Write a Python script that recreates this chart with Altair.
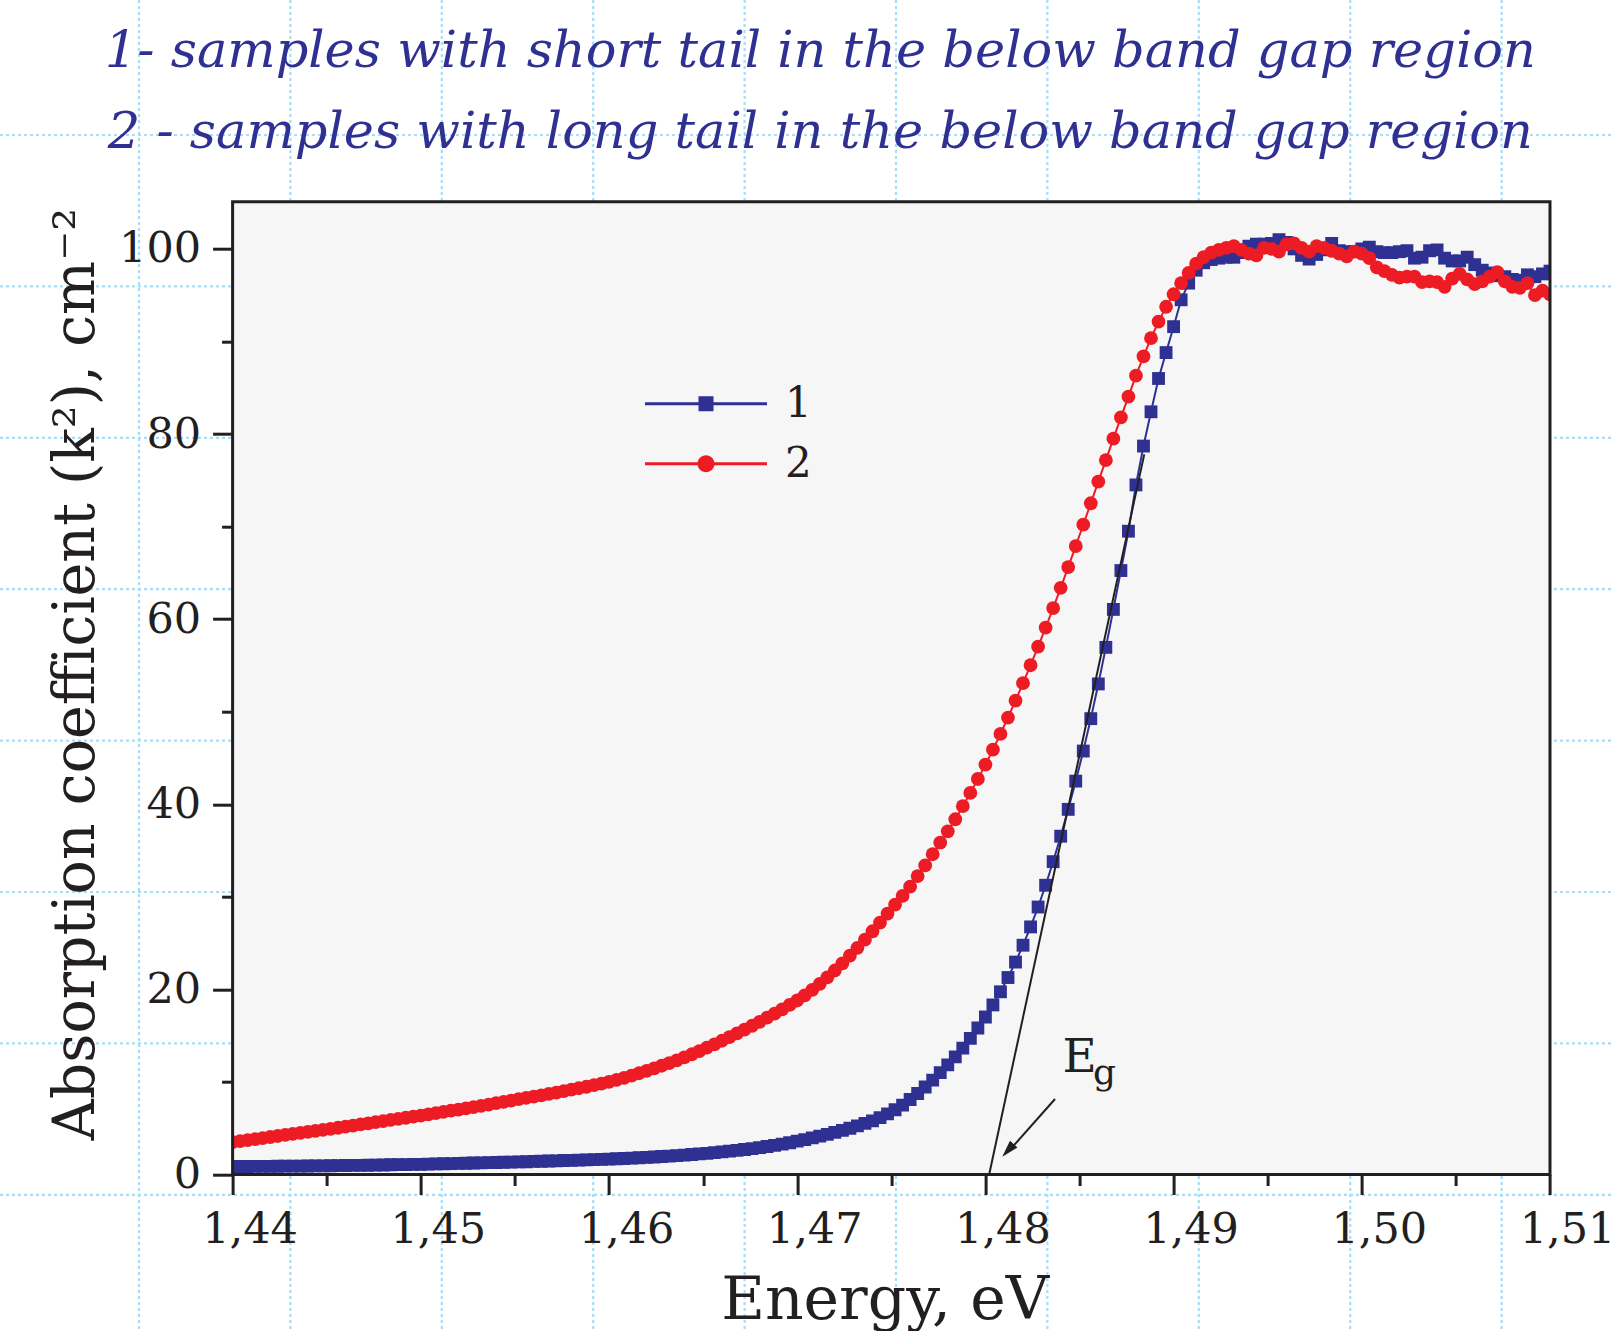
import altair as alt
import pandas as pd

BLUE = "#2e3192"
RED = "#ed1c24"
INK = "#231f20"
GRIDC = "#a9dcf5"
FONT = "DejaVu Serif"

# ---------------- data ----------------
energy = [
    1.4400, 1.4404, 1.4408, 1.4412, 1.4416, 1.4420, 1.4424, 1.4428, 1.4432, 1.4436,
    1.4440, 1.4444, 1.4448, 1.4452, 1.4456, 1.4460, 1.4464, 1.4468, 1.4472, 1.4476,
    1.4480, 1.4484, 1.4488, 1.4492, 1.4496, 1.4500, 1.4504, 1.4508, 1.4512, 1.4516,
    1.4520, 1.4524, 1.4528, 1.4532, 1.4536, 1.4540, 1.4544, 1.4548, 1.4552, 1.4556,
    1.4560, 1.4564, 1.4568, 1.4572, 1.4576, 1.4580, 1.4584, 1.4588, 1.4592, 1.4596,
    1.4600, 1.4604, 1.4608, 1.4612, 1.4616, 1.4620, 1.4624, 1.4628, 1.4632, 1.4636,
    1.4640, 1.4644, 1.4648, 1.4652, 1.4656, 1.4660, 1.4664, 1.4668, 1.4672, 1.4676,
    1.4680, 1.4684, 1.4688, 1.4692, 1.4696, 1.4700, 1.4704, 1.4708, 1.4712, 1.4716,
    1.4720, 1.4724, 1.4728, 1.4732, 1.4736, 1.4740, 1.4744, 1.4748, 1.4752, 1.4756,
    1.4760, 1.4764, 1.4768, 1.4772, 1.4776, 1.4780, 1.4784, 1.4788, 1.4792, 1.4796,
    1.4800, 1.4804, 1.4808, 1.4812, 1.4816, 1.4820, 1.4824, 1.4828, 1.4832, 1.4836,
    1.4840, 1.4844, 1.4848, 1.4852, 1.4856, 1.4860, 1.4864, 1.4868, 1.4872, 1.4876,
    1.4880, 1.4884, 1.4888, 1.4892, 1.4896, 1.4900, 1.4904, 1.4908, 1.4912, 1.4916,
    1.4920, 1.4924, 1.4928, 1.4932, 1.4936, 1.4940, 1.4944, 1.4948, 1.4952, 1.4956,
    1.4960, 1.4964, 1.4968, 1.4972, 1.4976, 1.4980, 1.4984, 1.4988, 1.4992, 1.4996,
    1.5000, 1.5004, 1.5008, 1.5012, 1.5016, 1.5020, 1.5024, 1.5028, 1.5032, 1.5036,
    1.5040, 1.5044, 1.5048, 1.5052, 1.5056, 1.5060, 1.5064, 1.5068, 1.5072, 1.5076,
    1.5080, 1.5084, 1.5088, 1.5092, 1.5096, 1.5100,
]

# curve 1 - short tail (blue squares)
k2_short = [
    0.85, 0.86, 0.86, 0.87, 0.87, 0.88, 0.89, 0.90, 0.90, 0.91,
    0.92, 0.93, 0.94, 0.95, 0.96, 0.97, 0.98, 0.99, 1.00, 1.02,
    1.03, 1.05, 1.06, 1.07, 1.09, 1.10, 1.12, 1.14, 1.16, 1.18,
    1.20, 1.22, 1.24, 1.26, 1.28, 1.30, 1.32, 1.34, 1.36, 1.38,
    1.41, 1.43, 1.46, 1.48, 1.51, 1.53, 1.56, 1.58, 1.61, 1.63,
    1.66, 1.70, 1.73, 1.77, 1.81, 1.85, 1.89, 1.94, 1.99, 2.04,
    2.10, 2.16, 2.22, 2.29, 2.36, 2.44, 2.52, 2.61, 2.70, 2.80,
    2.91, 3.03, 3.15, 3.28, 3.43, 3.60, 3.77, 3.95, 4.14, 4.34,
    4.55, 4.77, 5.00, 5.25, 5.52, 5.80, 6.15, 6.55, 7.00, 7.50,
    8.10, 8.75, 9.45, 10.20, 11.00, 11.85, 12.71, 13.65, 14.70, 15.83,
    17.02, 18.32, 19.74, 21.28, 22.95, 24.77, 26.75, 28.90, 31.25, 33.80,
    36.55, 39.45, 42.50, 45.75, 49.25, 53.00, 56.95, 61.05, 65.25, 69.50,
    74.50, 78.70, 82.40, 86.00, 88.80, 91.60, 94.50, 96.30, 97.70, 98.50,
    98.85, 99.00, 99.10, 99.10, 99.60, 100.30, 100.50, 100.50, 100.60, 101.00,
    100.70, 100.00, 99.30, 98.90, 99.40, 99.90, 100.60, 99.80, 99.70, 99.70,
    100.00, 100.20, 99.70, 99.60, 99.60, 99.70, 99.80, 99.00, 99.10, 99.80,
    99.90, 99.00, 98.70, 98.70, 99.10, 98.30, 97.70, 97.40, 97.10, 97.00,
    96.70, 96.60, 97.20, 97.00, 97.30, 97.60,
]

# curve 2 - long tail (red circles)
k2_long = [
    3.50, 3.61, 3.72, 3.83, 3.94, 4.05, 4.16, 4.27, 4.38, 4.49,
    4.60, 4.71, 4.82, 4.93, 5.05, 5.17, 5.29, 5.41, 5.53, 5.65,
    5.77, 5.89, 6.01, 6.13, 6.25, 6.37, 6.50, 6.63, 6.76, 6.89,
    7.02, 7.15, 7.28, 7.42, 7.56, 7.70, 7.84, 7.99, 8.14, 8.29,
    8.42, 8.56, 8.70, 8.85, 9.00, 9.16, 9.32, 9.48, 9.65, 9.82,
    10.00, 10.22, 10.45, 10.69, 10.94, 11.20, 11.47, 11.75, 12.04, 12.34,
    12.65, 12.99, 13.34, 13.70, 14.07, 14.45, 14.84, 15.24, 15.65, 16.07,
    16.50, 16.94, 17.39, 17.85, 18.32, 18.80, 19.35, 19.95, 20.60, 21.30,
    22.04, 22.82, 23.64, 24.49, 25.37, 26.28, 27.22, 28.19, 29.15, 30.10,
    31.11, 32.24, 33.39, 34.60, 35.85, 37.08, 38.38, 39.79, 41.23, 42.73,
    44.28, 45.90, 47.60, 49.37, 51.20, 53.08, 55.02, 57.02, 59.08, 61.20,
    63.38, 65.62, 67.90, 70.20, 72.52, 74.85, 77.18, 79.50, 81.80, 84.05,
    86.30, 88.40, 90.35, 92.15, 93.75, 95.10, 96.30, 97.40, 98.40, 99.10,
    99.60, 99.90, 100.10, 100.30, 99.90, 99.50, 99.30, 100.10, 100.00, 99.70,
    100.50, 100.60, 100.10, 99.70, 100.30, 100.10, 99.80, 99.50, 99.20, 99.70,
    99.50, 99.00, 98.00, 97.60, 97.20, 96.90, 97.00, 97.00, 96.40, 96.50,
    96.40, 95.90, 96.80, 97.30, 96.70, 96.20, 96.50, 97.00, 97.50, 96.50,
    95.90, 95.80, 96.30, 95.00, 95.50, 95.10,
]

series_labels = ["1", "2"]
x_ticks = [1.44, 1.445, 1.45, 1.455, 1.46, 1.465, 1.47, 1.475, 1.48,
           1.485, 1.49, 1.495, 1.50, 1.505, 1.51]
y_ticks = [0, 10, 20, 30, 40, 50, 60, 70, 80, 90, 100]
x_domain = [1.44, 1.51]
y_domain = [0, 105.1]

# band-gap extrapolation line and arrow (data units)
eg_line_x = [1.4802, 1.48844]
eg_line_y = [0.0, 77.8]
arrow_x = [1.48370, 1.48125]
arrow_y = [8.16, 2.55]
arrow_head_x = [1.48120]
arrow_head_y = [2.60]
eg_main_x, eg_main_y = [1.48410], [11.1]
eg_sub_x, eg_sub_y = [1.48572], [9.8]

# page background graph-paper grid (page pixel units)
grid_cols = [139, 290.4, 441.8, 593.2, 744.6, 896, 1047.4, 1198.8, 1350.2, 1501.6]
grid_rows = [135, 286.4, 437.8, 589.2, 740.6, 892, 1043.4, 1194.8]

title_lines = ["1- samples with short tail in the below band gap region",
               "2 - samples with long tail in the below band gap region"]

# ---------------- layout ----------------
PAGE_W, PAGE_H = 1614, 1331
PL, PT = 232.6, 201.7
PW, PH = 1317.4, 972.8

df1 = pd.DataFrame({"E": energy, "k": k2_short})
df2 = pd.DataFrame({"E": energy, "k": k2_long})

xs = alt.Scale(domain=x_domain, nice=False, zero=False)
ys = alt.Scale(domain=y_domain, nice=False, zero=False)

# grid layer with its own page-pixel scales
gxs = alt.Scale(domain=[0, PAGE_W], range=[-PL, PAGE_W - PL], nice=False, zero=False)
gys = alt.Scale(domain=[0, PAGE_H], range=[-PT, PAGE_H - PT], nice=False, zero=False)
vdf = pd.DataFrame({"gx": grid_cols, "y0": [0] * len(grid_cols), "y1": [PAGE_H] * len(grid_cols)})
hdf = pd.DataFrame({"gy": grid_rows, "x0": [0] * len(grid_rows), "x1": [PAGE_W] * len(grid_rows)})
grid_v = alt.Chart(vdf).mark_rule(color=GRIDC, strokeWidth=2.2, strokeDash=[3, 3]).encode(
    x=alt.X("gx:Q", scale=gxs, axis=None),
    y=alt.Y("y0:Q", scale=gys, axis=None), y2="y1:Q")
grid_h = alt.Chart(hdf).mark_rule(color=GRIDC, strokeWidth=2.2, strokeDash=[3, 3]).encode(
    y=alt.Y("gy:Q", scale=gys, axis=None),
    x=alt.X("x0:Q", scale=gxs, axis=None), x2="x1:Q")
grid = alt.layer(grid_v, grid_h)

frame_df = pd.DataFrame({"x": [x_domain[0]], "x2": [x_domain[1]], "y": [y_domain[0]], "y2": [y_domain[1]]})

x_axis = alt.Axis(
    values=x_ticks, domain=False, grid=False, zindex=1,
    labelExpr="round(datum.value*200) % 2 == 0 ? replace(format(datum.value, '.2f'), '.', ',') : ''",
    tickSize={"condition": {"test": "round(datum.value*200) % 2 == 0", "value": 20}, "value": 11},
    tickWidth=3, tickColor=INK, labelFont=FONT, labelFontSize=43, labelColor=INK,
    labelBaseline="alphabetic", labelPadding=48, labelOffset=17, labelFlush=False, labelOverlap=False,
    title="Energy, eV", titleFont=FONT, titleFontSize=60, titleFontWeight="normal",
    titleColor=INK, titleX=652, titleY=144, titleBaseline="alphabetic", titleAlign="center",
)
y_axis = alt.Axis(
    values=y_ticks, domain=False, grid=False, zindex=1,
    labelExpr="datum.value % 20 == 0 ? datum.label : ''",
    tickSize={"condition": {"test": "datum.value % 20 == 0", "value": 20}, "value": 11},
    tickWidth=3, tickColor=INK, labelFont=FONT, labelFontSize=43, labelColor=INK,
    labelPadding=12, labelFlush=False, labelOverlap=False,
    title="Absorption coefficient (k²), cm⁻²", titleFont=FONT, titleFontSize=57,
    titleFontWeight="normal", titleColor=INK, titleAngle=270,
    titleX=-139, titleY=472, titleBaseline="alphabetic", titleAlign="center",
)

bg = alt.Chart(frame_df).mark_rect(fill="#f6f6f6", strokeWidth=0).encode(
    x=alt.X("x:Q", scale=xs, axis=x_axis), x2="x2:Q",
    y=alt.Y("y:Q", scale=ys, axis=y_axis), y2="y2:Q")
border = alt.Chart(frame_df).mark_rect(fillOpacity=0, stroke=INK, strokeWidth=3).encode(
    x=alt.X("x:Q", scale=xs), x2="x2:Q", y=alt.Y("y:Q", scale=ys), y2="y2:Q")

line1 = alt.Chart(df1).mark_line(color=BLUE, strokeWidth=2, clip=True).encode(
    x=alt.X("E:Q", scale=xs), y=alt.Y("k:Q", scale=ys))
pts1 = alt.Chart(df1).mark_point(shape="square", filled=True, size=165, color=BLUE,
                                 opacity=1, strokeWidth=0, clip=True).encode(
    x=alt.X("E:Q", scale=xs), y=alt.Y("k:Q", scale=ys))
line2 = alt.Chart(df2).mark_line(color=RED, strokeWidth=2, clip=True).encode(
    x=alt.X("E:Q", scale=xs), y=alt.Y("k:Q", scale=ys))
pts2 = alt.Chart(df2).mark_point(shape="circle", filled=True, size=190, color=RED,
                                 opacity=1, strokeWidth=0, clip=True).encode(
    x=alt.X("E:Q", scale=xs), y=alt.Y("k:Q", scale=ys))

eg_line = alt.Chart(pd.DataFrame({"x": eg_line_x, "y": eg_line_y})).mark_line(
    color=INK, strokeWidth=2).encode(x=alt.X("x:Q", scale=xs), y=alt.Y("y:Q", scale=ys))
arrow = alt.Chart(pd.DataFrame({"x": arrow_x, "y": arrow_y})).mark_line(
    color=INK, strokeWidth=2).encode(x=alt.X("x:Q", scale=xs), y=alt.Y("y:Q", scale=ys))
arrow_head = alt.Chart(pd.DataFrame({"x": arrow_head_x, "y": arrow_head_y})).mark_point(
    shape="M0,-1L0.6,1L-0.6,1Z", angle=222.4, size=289, filled=True, color=INK,
    opacity=1, strokeWidth=0).encode(x=alt.X("x:Q", scale=xs), y=alt.Y("y:Q", scale=ys))
eg_E = alt.Chart(pd.DataFrame({"x": eg_main_x, "y": eg_main_y, "t": ["E"]})).mark_text(
    font=FONT, fontSize=47, color=INK, align="left", baseline="alphabetic").encode(
    x=alt.X("x:Q", scale=xs), y=alt.Y("y:Q", scale=ys), text="t:N")
eg_g = alt.Chart(pd.DataFrame({"x": eg_sub_x, "y": eg_sub_y, "t": ["g"]})).mark_text(
    font=FONT, fontSize=36, color=INK, align="left", baseline="alphabetic").encode(
    x=alt.X("x:Q", scale=xs), y=alt.Y("y:Q", scale=ys), text="t:N")

# legend-only layer (points clipped away, legend symbols are line + marker paths)
P_SQ = "M-6.1,-0.15H6.1V0.15H-6.1Z M-0.75,-0.75H0.75V0.75H-0.75Z"
P_CI = "M-6.1,-0.15H6.1V0.15H-6.1Z M-0.85,0A0.85,0.85 0 1,1 0.85,0A0.85,0.85 0 1,1 -0.85,0Z"
leg_df = pd.DataFrame({"series": series_labels, "x": [1.0, 1.0], "y": [50, 50]})
legend = alt.Legend(
    title=None, orient="none", legendX=452.4, legendY=181.1, padding=0,
    symbolSize=400, symbolStrokeWidth=0, symbolOpacity=1,
    labelFont=FONT, labelFontSize=42, labelColor=INK, labelOffset=58,
    rowPadding=18, labelLimit=0)
leg = alt.Chart(leg_df).mark_point(filled=True, opacity=1, clip=True, strokeWidth=0).encode(
    x=alt.X("x:Q", scale=xs), y=alt.Y("y:Q", scale=ys),
    color=alt.Color("series:N", scale=alt.Scale(domain=series_labels, range=[BLUE, RED]), legend=legend),
    shape=alt.Shape("series:N", scale=alt.Scale(domain=series_labels, range=[P_SQ, P_CI]), legend=legend),
)

main = alt.layer(bg, line1, pts1, line2, pts2, eg_line, arrow, arrow_head, eg_E, eg_g, leg, border)

chart = alt.layer(grid, main).resolve_scale(x="independent", y="independent").properties(
    width=PW, height=PH,
    padding={"left": PL, "top": PT, "right": PAGE_W - PL - PW, "bottom": PAGE_H - PT - PH},
    autosize=alt.AutoSizeParams(type="none"),
    background="white",
    title=alt.TitleParams(
        text=title_lines, font=FONT, fontSize=51, fontStyle="italic", fontWeight="normal",
        color=BLUE, anchor="middle", dx=-71, dy=160, offset=0, lineHeight=81),
).configure_view(stroke=None)

chart.save("out.html", embed_options={"renderer": "svg", "actions": False})
